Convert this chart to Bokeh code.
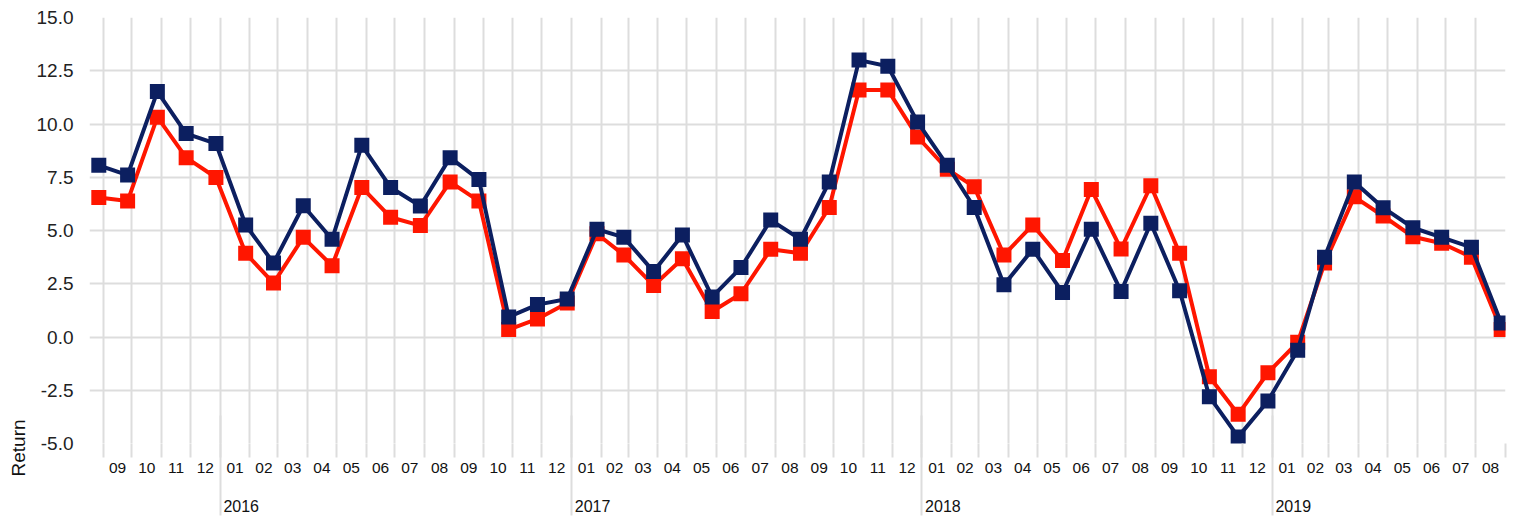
import math
import pandas as pd
from bokeh.plotting import figure
from bokeh.models import (Range1d, LinearAxis, FixedTicker, NumeralTickFormatter,
                          Title, Grid, ColumnDataSource)
from bokeh.embed import file_html
from bokeh.resources import INLINE

# ---------------- data ----------------
months = [
    "2015-08", "2015-09", "2015-10", "2015-11", "2015-12",
    "2016-01", "2016-02", "2016-03", "2016-04", "2016-05", "2016-06",
    "2016-07", "2016-08", "2016-09", "2016-10", "2016-11", "2016-12",
    "2017-01", "2017-02", "2017-03", "2017-04", "2017-05", "2017-06",
    "2017-07", "2017-08", "2017-09", "2017-10", "2017-11", "2017-12",
    "2018-01", "2018-02", "2018-03", "2018-04", "2018-05", "2018-06",
    "2018-07", "2018-08", "2018-09", "2018-10", "2018-11", "2018-12",
    "2019-01", "2019-02", "2019-03", "2019-04", "2019-05", "2019-06",
    "2019-07", "2019-08",
]
navy_series = [
    8.06, 7.60, 11.52, 9.55, 9.08,
    5.26, 3.47, 6.16, 4.59, 9.00, 7.02, 6.15, 8.42, 7.39, 0.94, 1.52, 1.78,
    5.06, 4.68, 3.07, 4.79, 1.88, 3.26, 5.49, 4.59, 7.28, 13.00, 12.71, 10.09,
    8.06, 6.08, 2.45, 4.12, 2.09, 5.06, 2.14, 5.34, 2.17, -2.80, -4.69, -3.00,
    -0.62, 3.75, 7.28, 6.07, 5.13, 4.68, 4.21, 0.66,
]
red_series = [
    6.55, 6.38, 10.32, 8.42, 7.49,
    3.93, 2.53, 4.68, 3.35, 7.02, 5.62, 5.23, 7.28, 6.38, 0.35, 0.85, 1.60,
    4.85, 3.85, 2.42, 3.67, 1.20, 2.03, 4.12, 3.93, 6.08, 11.60, 11.60, 9.39,
    7.88, 7.05, 3.85, 5.26, 3.59, 6.93, 4.13, 7.10, 3.93, -1.87, -3.63, -1.68,
    -0.25, 3.47, 6.58, 5.68, 4.71, 4.40, 3.75, 0.35,
]
y_ticks = [-5.0, -2.5, 0.0, 2.5, 5.0, 7.5, 10.0, 12.5, 15.0]
label_months = months[1:]          # months that get a label on the axis
year_labels = ["2016", "2017", "2018", "2019"]

NAVY = "#0c1f60"
RED = "#ff1600"
GRID = "#dddddd"
FONT = "Liberation Sans"

# ---------------- coordinates (days since first labelled month) ----------------
origin = pd.Timestamp(label_months[0] + "-01")


def days(ts):
    return (ts - origin).total_seconds() / 86400.0


starts = [pd.Timestamp(m + "-01") for m in label_months]
end = starts[-1] + pd.offsets.MonthBegin(1)
boundaries = [days(t) for t in starts] + [days(end)]
mids = [(boundaries[i] + boundaries[i + 1]) / 2.0 for i in range(len(label_months))]
month_overrides = {mids[i]: label_months[i][5:7] for i in range(len(label_months))}

year_pos = [days(pd.Timestamp(y + "-01-01")) for y in year_labels]
pad = "\u2007" * 4 + "\u2009\u2009"
year_overrides = {year_pos[i]: pad + year_labels[i] for i in range(len(year_labels))}

# each point sits a few days before the end of its month
xs = [days(pd.Timestamp(m + "-01") + pd.offsets.MonthBegin(1)) - 4.5 for m in months]

src = ColumnDataSource(dict(x=xs, navy=navy_series, red=red_series))

# ---------------- figure ----------------
p = figure(width=1514, height=517,
           x_range=Range1d(boundaries[0] - 14.2, boundaries[-1]),
           y_range=Range1d(-5, 15),
           x_axis_type=None, y_axis_type=None,
           output_backend="svg", toolbar_location=None,
           min_border_left=82, min_border_right=9,
           min_border_top=17, min_border_bottom=72)
p.outline_line_color = None
p.background_fill_color = "white"
p.border_fill_color = "white"

# grids
p.add_layout(Grid(dimension=0, ticker=FixedTicker(ticks=boundaries),
                  grid_line_color=GRID, grid_line_width=2))
p.add_layout(Grid(dimension=1, ticker=FixedTicker(ticks=y_ticks),
                  grid_line_color=GRID, grid_line_width=2))

# y axis
yax = LinearAxis(ticker=FixedTicker(ticks=y_ticks),
                 formatter=NumeralTickFormatter(format="0.0"))
yax.axis_line_color = None
yax.major_tick_line_color = None
yax.minor_tick_line_color = None
yax.major_label_standoff = 10
yax.major_label_text_font = FONT
yax.major_label_text_font_size = "19px"
yax.major_label_text_color = "#222222"
p.add_layout(yax, "left")

# y axis title, anchored low on the left side
p.add_layout(Title(text="Return", align="left", offset=-33,
                   text_font=FONT, text_font_size="19px",
                   text_font_style="normal", text_color="#111111"), "left")

# month axis
max_ = LinearAxis(ticker=FixedTicker(ticks=mids, minor_ticks=boundaries))
max_.major_label_overrides = month_overrides
max_.axis_line_color = None
max_.major_tick_line_color = None
max_.major_tick_out = 0
max_.major_tick_in = 0
max_.minor_tick_line_color = GRID
max_.minor_tick_line_width = 2
max_.minor_tick_out = 14
max_.minor_tick_in = 0
max_.major_label_standoff = 5
max_.major_label_text_font = FONT
max_.major_label_text_font_size = "15.5px"
max_.major_label_text_color = "#111111"
p.add_layout(max_, "below")

# year axis
yrax = LinearAxis(ticker=FixedTicker(ticks=year_pos))
yrax.major_label_overrides = year_overrides
yrax.axis_line_color = None
yrax.minor_tick_line_color = None
yrax.major_tick_line_color = GRID
yrax.major_tick_line_width = 2
yrax.major_tick_in = 60
yrax.major_tick_out = 40
yrax.major_label_standoff = -18
yrax.major_label_text_font = FONT
yrax.major_label_text_font_size = "16px"
yrax.major_label_text_color = "#111111"
p.add_layout(yrax, "below")

# series
p.line("x", "red", source=src, line_color=RED, line_width=4)
p.scatter("x", "red", source=src, marker="square", size=15,
          fill_color=RED, line_color=None)
p.line("x", "navy", source=src, line_color=NAVY, line_width=4)
p.scatter("x", "navy", source=src, marker="square", size=15,
          fill_color=NAVY, line_color=None)

open("out.html", "w").write(file_html(p, INLINE))
